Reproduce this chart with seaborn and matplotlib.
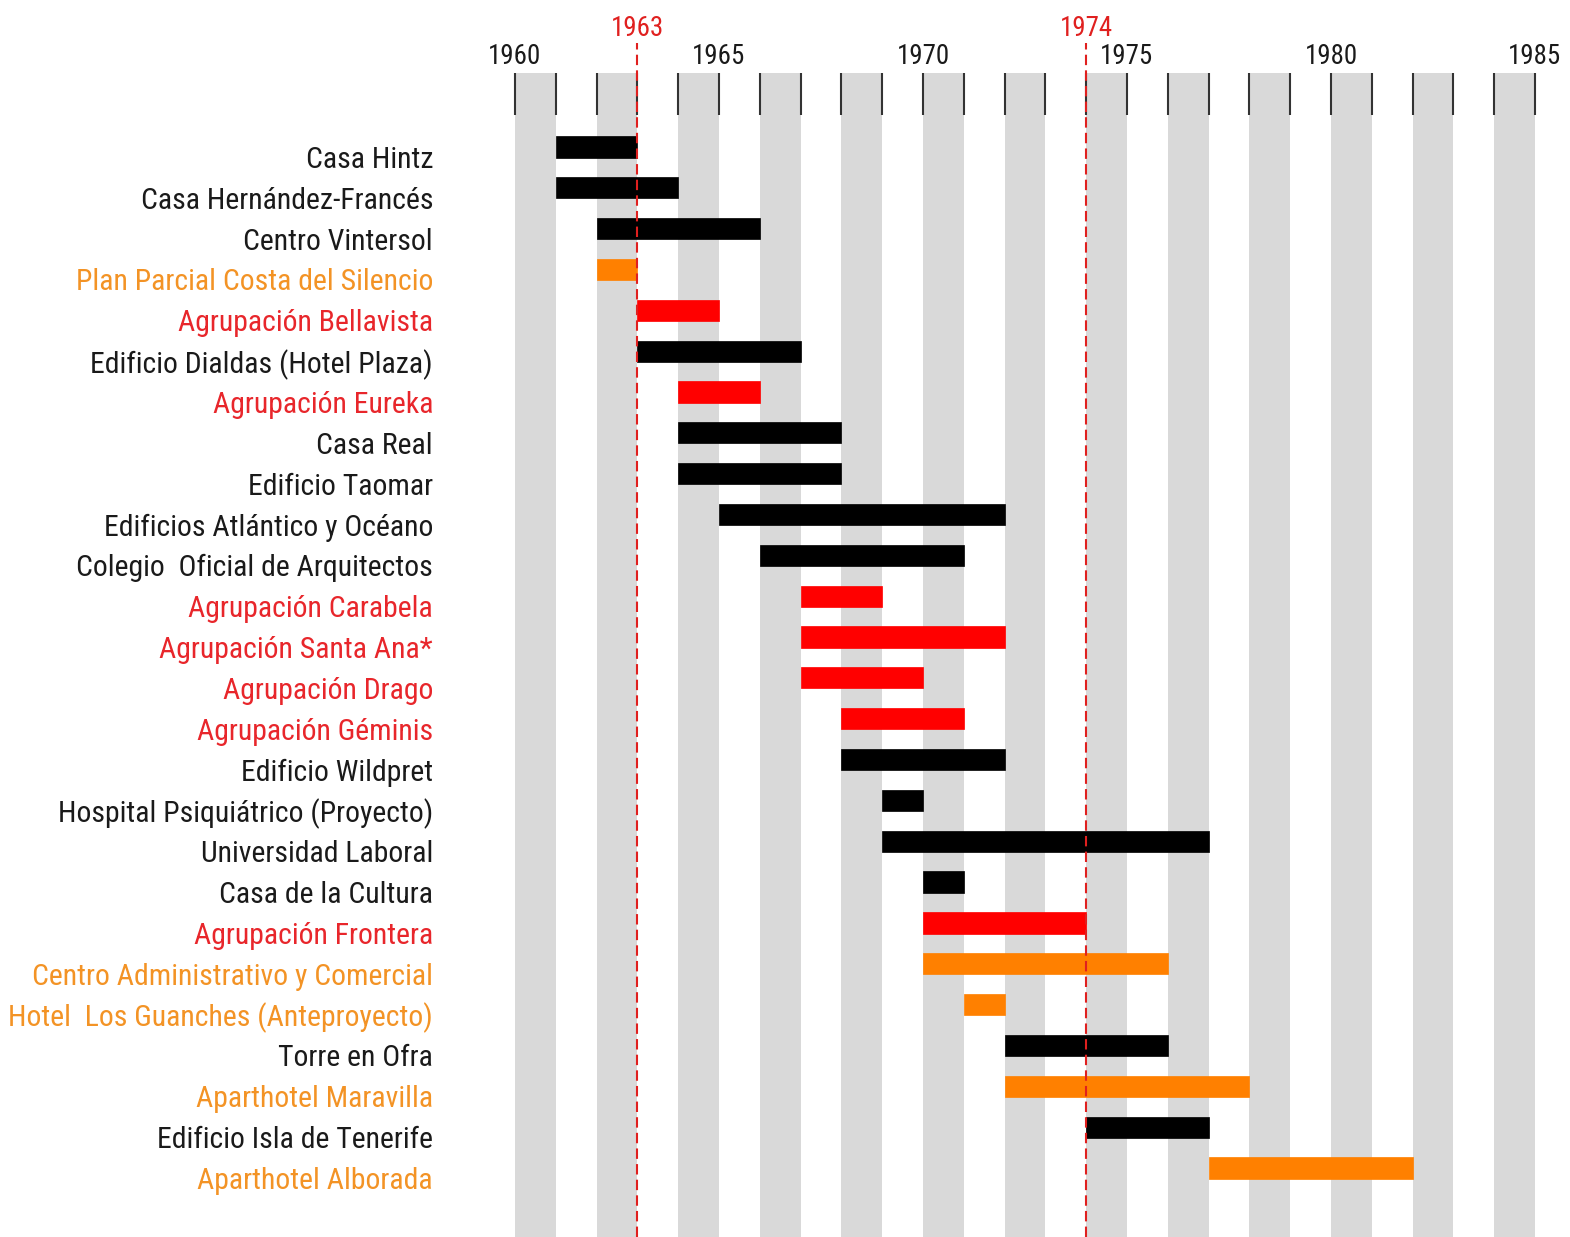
import matplotlib
matplotlib.use("Agg")
import matplotlib.pyplot as plt
import matplotlib.transforms as mtransforms
from matplotlib import font_manager as fm
import seaborn as sns
import numpy as np

# ---- data ----
projects = [
    "Casa Hintz", "Casa Hernández-Francés", "Centro Vintersol",
    "Plan Parcial Costa del Silencio", "Agrupación Bellavista",
    "Edificio Dialdas (Hotel Plaza)", "Agrupación Eureka", "Casa Real",
    "Edificio Taomar", "Edificios Atlántico y Océano",
    "Colegio  Oficial de Arquitectos", "Agrupación Carabela",
    "Agrupación Santa Ana*", "Agrupación Drago", "Agrupación Géminis",
    "Edificio Wildpret", "Hospital Psiquiátrico (Proyecto)",
    "Universidad Laboral", "Casa de la Cultura", "Agrupación Frontera",
    "Centro Administrativo y Comercial", "Hotel  Los Guanches (Anteproyecto)",
    "Torre en Ofra", "Aparthotel Maravilla", "Edificio Isla de Tenerife",
    "Aparthotel Alborada",
]
start_year = [1961, 1961, 1962, 1962, 1963, 1963, 1964, 1964, 1964, 1965,
              1966, 1967, 1967, 1967, 1968, 1968, 1969, 1969, 1970, 1970,
              1970, 1971, 1972, 1972, 1974, 1977]
end_year = [1963, 1964, 1966, 1963, 1965, 1967, 1966, 1968, 1968, 1972,
            1971, 1969, 1972, 1970, 1971, 1972, 1970, 1977, 1971, 1974,
            1976, 1972, 1976, 1978, 1977, 1982]
kind = ["black", "black", "black", "orange", "red", "black", "red", "black",
        "black", "black", "black", "red", "red", "red", "red", "black",
        "black", "black", "black", "red", "orange", "orange", "black",
        "orange", "black", "orange"]
axis_years = list(range(1960, 1986))
labeled_years = list(range(1960, 1986, 5))
marked_years = [1963, 1974]

duration = [e - s for s, e in zip(start_year, end_year)]

bar_colors = {"black": "#000000", "red": "#FF0000", "orange": "#FF8000"}
text_colors = {"black": "#1a1a1a", "red": "#E8262B", "orange": "#F39325"}

sns.set_theme(style="white")

# ---- pick a narrow sans font if one is available ----
entries = fm.fontManager.ttflist
names = {f.name for f in entries}
family, stretch = None, "normal"
for cand in ["Liberation Sans Narrow", "Arial Narrow", "Roboto Condensed",
             "Open Sans Condensed", "Noto Sans Condensed", "DejaVu Sans Condensed"]:
    if cand in names:
        family = cand
        break
if family is None:
    for f in entries:
        if ("Narrow" in f.name or "Condensed" in f.name) and "Mono" not in f.name \
                and "Serif" not in f.name and f.style == "normal":
            family = f.name
            break
if family is None:
    for f in entries:
        if str(f.stretch) in ("condensed", "semi-condensed") and "Mono" not in f.name \
                and "Serif" not in f.name and f.style == "normal":
            family, stretch = f.name, str(f.stretch)
            break
if family is None:
    family = "Liberation Sans"
plt.rcParams["font.family"] = [family, "Liberation Sans", "DejaVu Sans"]
plt.rcParams["font.stretch"] = stretch

W, H = 1570, 1237
fig = plt.figure(figsize=(W / 100, H / 100), dpi=100)
ax = fig.add_axes([515 / W, 0, 1020 / W, (H - 73) / H])

sns.barplot(x=duration, y=projects, order=projects, orient="h",
            left=start_year, color="black", saturation=1, errorbar=None,
            width=0.52, ax=ax, zorder=3)
bars = list(ax.containers[0])
for b, k in zip(bars, kind):
    b.set_facecolor(bar_colors[k])
    b.set_edgecolor(bar_colors[k])
    b.set_linewidth(0.5)

# alternate gray year stripes
for y in axis_years[:-1:2]:
    ax.axvspan(y, y + 1, color="#D9D9D9", lw=0, zorder=0)

ax.set_xlim(1960, 1985)
n = len(projects)
ax.set_ylim(n - 1 + 1.69, -1.81)
ax.set_xlabel("")
ax.set_ylabel("")
for s in ax.spines.values():
    s.set_visible(False)
ax.grid(False)

ax.xaxis.tick_top()
ax.set_xticks(labeled_years)
ax.set_xticks(axis_years, minor=True)
ax.set_xticklabels([str(y) for y in labeled_years])
ax.tick_params(axis="x", which="both", top=True, bottom=False, labeltop=True,
               labelbottom=False, direction="in", length=30, width=1.5,
               color="#333333", pad=2, labelsize=22, labelcolor="#1a1a1a")
for t in ax.xaxis.get_major_ticks() + ax.xaxis.get_minor_ticks():
    t.tick2line.set_zorder(5)
ax.tick_params(axis="y", length=0, pad=59, labelsize=22)

# ---- scale font sizes so text widths match the reference ----
fig.canvas.draw()
r = fig.canvas.get_renderer()
w_lab = ax.get_yticklabels()[1].get_window_extent(r).width
lab_size = 22 * 293.0 / w_lab
w_year = ax.get_xticklabels()[0].get_window_extent(r).width
year_size = 22 * 53.0 / w_year
ax.tick_params(axis="y", labelsize=lab_size)
ax.tick_params(axis="x", labelsize=year_size)

offset = mtransforms.ScaledTranslation(0, -10 / 100, fig.dpi_scale_trans)
for lab, k in zip(ax.get_yticklabels(), kind):
    lab.set_color(text_colors[k])
    lab.set_transform(lab.get_transform() + offset)

# marked years
trans = mtransforms.blended_transform_factory(ax.transData, fig.transFigure)
for y in marked_years:
    ax.axvline(y, ymin=0, ymax=1 + 30 / (H - 73), color="#E0201F", lw=1.5,
               ls=(0, (5, 2.5)), clip_on=False, zorder=6)
    ax.text(y, 1 - 28 / H, str(y), transform=trans, ha="center", va="center",
            color="#E0201F", fontsize=year_size)

fig.savefig("out.png", dpi=100)
